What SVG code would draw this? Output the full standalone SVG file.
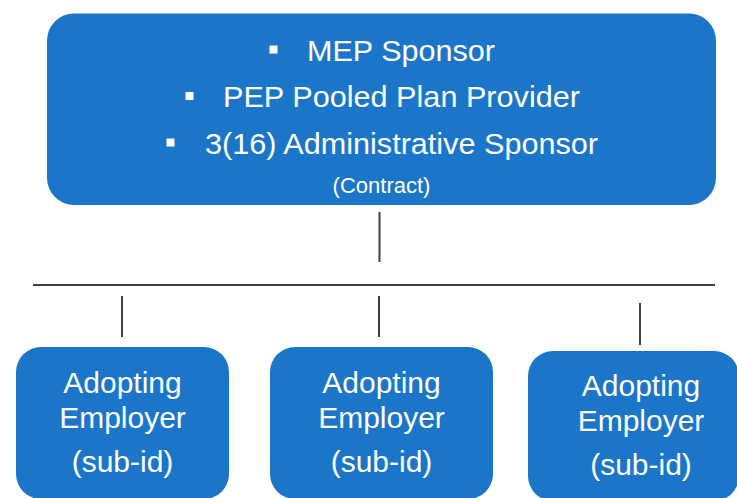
<svg xmlns="http://www.w3.org/2000/svg" width="737" height="498" viewBox="0 0 737 498">
  <style>
    .box { fill: #1b76c9; }
    .t { font-family: "Liberation Sans", Arial, sans-serif; fill: #ffffff; }
    .big { font-size: 30px; }
    .mid { text-anchor: middle; }
    .small { font-size: 22px; }
    .bullet { fill: #ffffff; }
    .conn { stroke: #3f3f3f; stroke-width: 2; fill: none; }
  </style>
  <rect width="737" height="498" fill="#ffffff"/>

  <g id="connectors">
    <line class="conn" x1="379.5" y1="212" x2="379.5" y2="262"/>
    <line class="conn" x1="33" y1="285" x2="715" y2="285"/>
    <line class="conn" x1="122" y1="296" x2="122" y2="337"/>
    <line class="conn" x1="379" y1="296" x2="379" y2="337"/>
    <line class="conn" x1="640" y1="303" x2="640" y2="345"/>
  </g>

  <g id="sponsor">
    <rect class="box" x="47" y="13.5" width="669" height="191.5" rx="27" ry="27"/>
    <rect class="bullet" x="269.5" y="45.5" width="8" height="8"/>
    <text class="t big" x="307" y="60.5" textLength="188" lengthAdjust="spacingAndGlyphs">MEP Sponsor</text>
    <rect class="bullet" x="185.5" y="92" width="8" height="8"/>
    <text class="t big" x="223" y="107" textLength="357" lengthAdjust="spacingAndGlyphs">PEP Pooled Plan Provider</text>
    <rect class="bullet" x="166.5" y="138.5" width="8" height="8"/>
    <text class="t big" x="205" y="153.5" textLength="393" lengthAdjust="spacingAndGlyphs">3(16) Administrative Sponsor</text>
    <text class="t small mid" x="381.5" y="193">(Contract)</text>
  </g>

  <g id="employer1">
    <rect class="box" x="16" y="347" width="213" height="152" rx="25" ry="25"/>
    <text class="t big mid" x="122.5" y="393">Adopting</text>
    <text class="t big mid" x="122.5" y="428">Employer</text>
    <text class="t big mid" x="122.5" y="472">(sub-id)</text>
  </g>

  <g id="employer2">
    <rect class="box" x="270" y="347" width="223" height="152" rx="25" ry="25"/>
    <text class="t big mid" x="381.5" y="393">Adopting</text>
    <text class="t big mid" x="381.5" y="428">Employer</text>
    <text class="t big mid" x="381.5" y="472">(sub-id)</text>
  </g>

  <g id="employer3">
    <rect class="box" x="528" y="351" width="211" height="150" rx="25" ry="25"/>
    <text class="t big mid" x="641" y="396">Adopting</text>
    <text class="t big mid" x="641" y="431">Employer</text>
    <text class="t big mid" x="641" y="475">(sub-id)</text>
  </g>
</svg>
